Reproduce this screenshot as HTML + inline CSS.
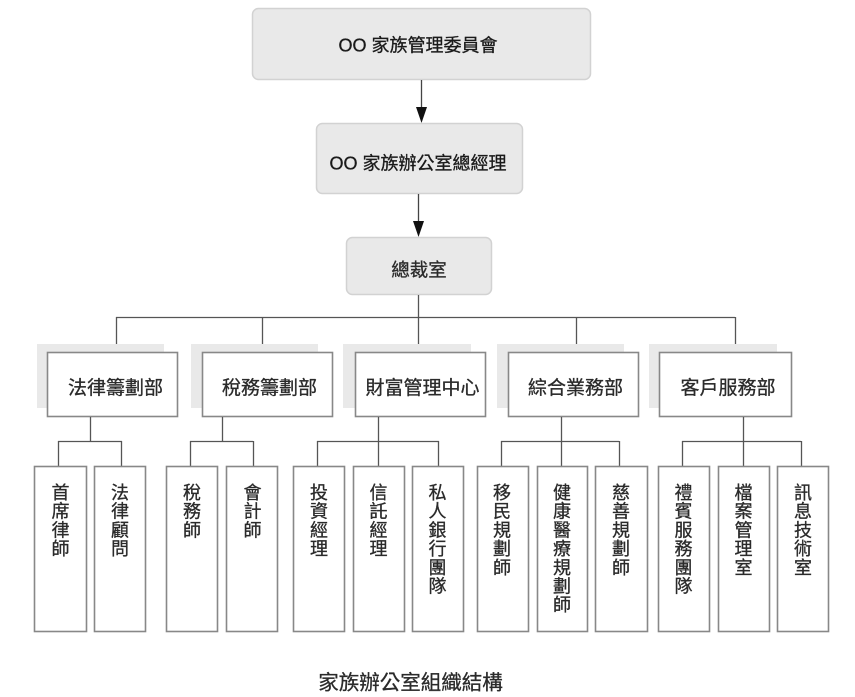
<!DOCTYPE html>
<html><head><meta charset="utf-8"><style>
html,body{margin:0;padding:0;background:#fff;}
svg{display:block;}
text{font-family:"Liberation Sans","Noto Sans CJK TC",sans-serif;}
</style></head><body>
<svg width="855" height="697" viewBox="0 0 855 697" xmlns="http://www.w3.org/2000/svg">
<!-- top boxes -->
<rect x="252.5" y="8.5" width="338" height="71" rx="6" fill="#e9e9e9" stroke="#d2d2d2" stroke-width="1.5"/>
<text x="418" y="51.5" font-size="18" fill="#1a1a1a" stroke="#1a1a1a" stroke-width="0.3" text-anchor="middle">OO 家族管理委員會</text>
<line x1="421.5" y1="80" x2="421.5" y2="108" stroke="#444" stroke-width="1.3"/>
<polygon points="416,107 427,107 421.5,123" fill="#111"/>
<rect x="316.5" y="123.5" width="206" height="70" rx="6" fill="#e9e9e9" stroke="#d2d2d2" stroke-width="1.5"/>
<text x="418" y="169.5" font-size="18" fill="#1a1a1a" stroke="#1a1a1a" stroke-width="0.3" text-anchor="middle">OO 家族辦公室總經理</text>
<line x1="418.5" y1="194" x2="418.5" y2="222" stroke="#444" stroke-width="1.3"/>
<polygon points="413,221 424,221 418.5,237" fill="#111"/>
<rect x="346.5" y="237.5" width="145" height="57" rx="6" fill="#e9e9e9" stroke="#d2d2d2" stroke-width="1.5"/>
<text x="419" y="276.5" font-size="18.5" fill="#2a2a2a" stroke="#2a2a2a" stroke-width="0.3" text-anchor="middle">總裁室</text>

<!-- level connectors -->
<g stroke="#555" stroke-width="1.3" fill="none">
<line x1="418.5" y1="295" x2="418.5" y2="344"/>
<line x1="116" y1="317.5" x2="735" y2="317.5"/>
<line x1="116.5" y1="317" x2="116.5" y2="344"/>
<line x1="262.5" y1="317" x2="262.5" y2="344"/>
<line x1="576.5" y1="317" x2="576.5" y2="344"/>
<line x1="735.5" y1="317" x2="735.5" y2="344"/>
</g>

<!-- dept shadows -->
<g fill="#e9e9e9">
<rect x="37" y="344" width="127" height="64"/>
<rect x="191" y="344" width="127" height="64"/>
<rect x="343" y="344" width="128" height="64"/>
<rect x="497" y="344" width="127" height="64"/>
<rect x="649" y="344" width="128" height="64"/>
</g>
<g fill="#fff" stroke="#888" stroke-width="1.6">
<rect x="47.5" y="352.5" width="130" height="64"/>
<rect x="202.5" y="352.5" width="130" height="64"/>
<rect x="355.5" y="352.5" width="130" height="64"/>
<rect x="508.5" y="352.5" width="130" height="64"/>
<rect x="659.5" y="352.5" width="132" height="64"/>
</g>
<g font-size="19" fill="#2a2a2a" stroke="#2a2a2a" stroke-width="0.3" text-anchor="middle">
<text x="115.5" y="394">法律籌劃部</text>
<text x="269.5" y="394">稅務籌劃部</text>
<text x="422.5" y="394">財富管理中心</text>
<text x="575.5" y="394">綜合業務部</text>
<text x="728" y="394">客戶服務部</text>
</g>

<!-- sub connectors -->
<g stroke="#555" stroke-width="1.3" fill="none">
<line x1="90.5" y1="417" x2="90.5" y2="441"/>
<line x1="58" y1="441.5" x2="122" y2="441.5"/>
<line x1="58.5" y1="441" x2="58.5" y2="466"/>
<line x1="121.5" y1="441" x2="121.5" y2="466"/>

<line x1="222.5" y1="417" x2="222.5" y2="441"/>
<line x1="190" y1="441.5" x2="253" y2="441.5"/>
<line x1="190.5" y1="441" x2="190.5" y2="466"/>
<line x1="253.5" y1="441" x2="253.5" y2="466"/>

<line x1="378.5" y1="417" x2="378.5" y2="466"/>
<line x1="317" y1="441.5" x2="439" y2="441.5"/>
<line x1="317.5" y1="441" x2="317.5" y2="466"/>
<line x1="438.5" y1="441" x2="438.5" y2="466"/>

<line x1="561.5" y1="417" x2="561.5" y2="466"/>
<line x1="501" y1="441.5" x2="619" y2="441.5"/>
<line x1="501.5" y1="441" x2="501.5" y2="466"/>
<line x1="619.5" y1="441" x2="619.5" y2="466"/>

<line x1="743.5" y1="417" x2="743.5" y2="466"/>
<line x1="682" y1="441.5" x2="801" y2="441.5"/>
<line x1="682.5" y1="441" x2="682.5" y2="466"/>
<line x1="801.5" y1="441" x2="801.5" y2="466"/>
</g>

<!-- child boxes -->
<g fill="#fff" stroke="#888" stroke-width="1.6">
<rect x="34.5" y="466.5" width="52" height="165"/>
<rect x="94.5" y="466.5" width="51" height="165"/>
<rect x="166.5" y="466.5" width="51" height="165"/>
<rect x="226.5" y="466.5" width="51" height="165"/>
<rect x="293.5" y="466.5" width="51" height="165"/>
<rect x="353.5" y="466.5" width="51" height="165"/>
<rect x="412.5" y="466.5" width="51" height="165"/>
<rect x="477.5" y="466.5" width="51" height="165"/>
<rect x="537.5" y="466.5" width="50" height="165"/>
<rect x="595.5" y="466.5" width="52" height="165"/>
<rect x="658.5" y="466.5" width="51" height="165"/>
<rect x="718.5" y="466.5" width="51" height="165"/>
<rect x="777.5" y="466.5" width="51" height="165"/>
</g>

<g font-size="18" fill="#2a2a2a" stroke="#2a2a2a" stroke-width="0.3" text-anchor="middle">
<text x="60.5" y="499">首</text><text x="60.5" y="517.7">席</text><text x="60.5" y="536.4">律</text><text x="60.5" y="555.1">師</text>
<text x="120" y="499">法</text><text x="120" y="517.7">律</text><text x="120" y="536.4">顧</text><text x="120" y="555.1">問</text>
<text x="192" y="499">稅</text><text x="192" y="517.7">務</text><text x="192" y="536.4">師</text>
<text x="252.5" y="499">會</text><text x="252.5" y="517.7">計</text><text x="252.5" y="536.4">師</text>
<text x="319" y="499">投</text><text x="319" y="517.7">資</text><text x="319" y="536.4">經</text><text x="319" y="555.1">理</text>
<text x="378.5" y="499">信</text><text x="378.5" y="517.7">託</text><text x="378.5" y="536.4">經</text><text x="378.5" y="555.1">理</text>
<text x="437.5" y="499">私</text><text x="437.5" y="517.7">人</text><text x="437.5" y="536.4">銀</text><text x="437.5" y="555.1">行</text><text x="437.5" y="573.8">團</text><text x="437.5" y="592.5">隊</text>
<text x="502" y="499">移</text><text x="502" y="517.7">民</text><text x="502" y="536.4">規</text><text x="502" y="555.1">劃</text><text x="502" y="573.8">師</text>
<text x="562" y="499">健</text><text x="562" y="517.7">康</text><text x="562" y="536.4">醫</text><text x="562" y="555.1">療</text><text x="562" y="573.8">規</text><text x="562" y="592.5">劃</text><text x="562" y="611.2">師</text>
<text x="621" y="499">慈</text><text x="621" y="517.7">善</text><text x="621" y="536.4">規</text><text x="621" y="555.1">劃</text><text x="621" y="573.8">師</text>
<text x="683.5" y="499">禮</text><text x="683.5" y="517.7">賓</text><text x="683.5" y="536.4">服</text><text x="683.5" y="555.1">務</text><text x="683.5" y="573.8">團</text><text x="683.5" y="592.5">隊</text>
<text x="743.5" y="499">檔</text><text x="743.5" y="517.7">案</text><text x="743.5" y="536.4">管</text><text x="743.5" y="555.1">理</text><text x="743.5" y="573.8">室</text>
<text x="803" y="499">訊</text><text x="803" y="517.7">息</text><text x="803" y="536.4">技</text><text x="803" y="555.1">術</text><text x="803" y="573.8">室</text>
</g>

<text x="410.5" y="689.5" font-size="20.5" fill="#2a2a2a" stroke="#2a2a2a" stroke-width="0.3" text-anchor="middle">家族辦公室組織結構</text>
</svg>
</body></html>
